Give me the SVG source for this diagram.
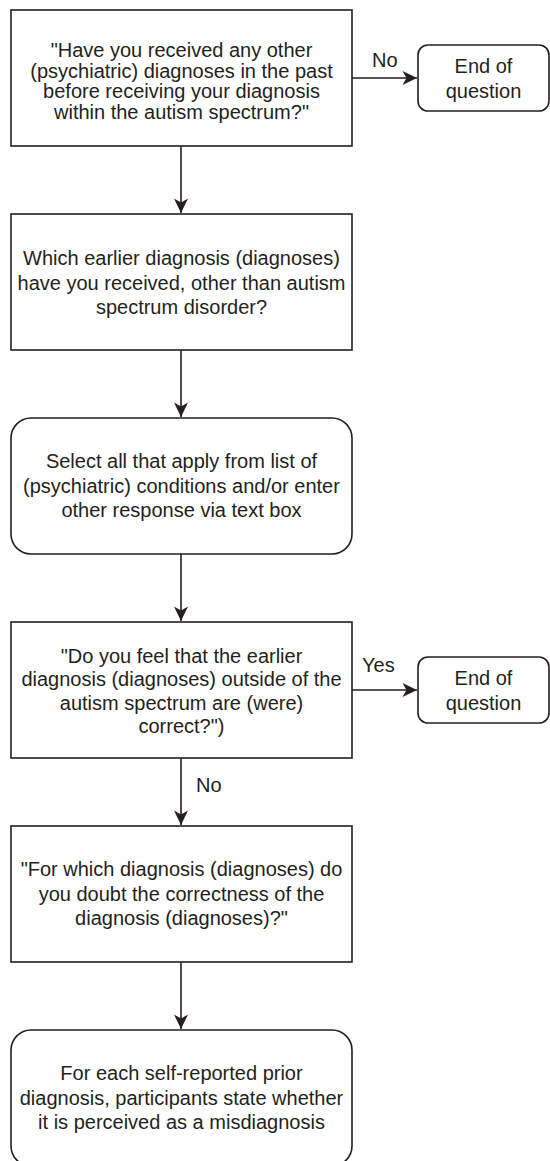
<svg xmlns="http://www.w3.org/2000/svg" width="550" height="1161" viewBox="0 0 550 1161">
<style>
.box{fill:#ffffff;stroke:#231f20;stroke-width:1.6}
.t{font-family:"Liberation Sans",Arial,sans-serif;font-size:20px;fill:#231f20;text-anchor:middle}
.l{font-family:"Liberation Sans",Arial,sans-serif;font-size:20px;fill:#231f20}
.c{fill:none;stroke:#231f20;stroke-width:1.6}
</style>
<defs>
<marker id="arr" markerUnits="userSpaceOnUse" markerWidth="16" markerHeight="16" viewBox="-15 -8 16 16" refX="0" refY="0" orient="auto">
<path d="M0,0 L-14.5,-7 L-10.5,0 L-14.5,7 Z" fill="#231f20"/>
</marker>
</defs>
<rect width="550" height="1161" fill="#ffffff"/>
<g id="connectors">
<line class="c" x1="352" y1="78" x2="417" y2="78" marker-end="url(#arr)"/>
<line class="c" x1="181" y1="146" x2="181" y2="213" marker-end="url(#arr)"/>
<line class="c" x1="181" y1="350" x2="181" y2="417" marker-end="url(#arr)"/>
<line class="c" x1="181" y1="554" x2="181" y2="621" marker-end="url(#arr)"/>
<line class="c" x1="352" y1="690" x2="417" y2="690" marker-end="url(#arr)"/>
<line class="c" x1="181" y1="758" x2="181" y2="825" marker-end="url(#arr)"/>
<line class="c" x1="181" y1="962" x2="181" y2="1029" marker-end="url(#arr)"/>
<text class="l" x="372" y="67">No</text>
<text class="l" x="362" y="672">Yes</text>
<text class="l" x="196" y="792">No</text>
</g>
<g id="q1">
<rect class="box" x="11" y="10" width="341" height="136"/>
<text class="t" x="181.5" y="57">"Have you received any other</text>
<text class="t" x="181.5" y="77.5">(psychiatric) diagnoses in the past</text>
<text class="t" x="181.5" y="98">before receiving your diagnosis</text>
<text class="t" x="181.5" y="118.5">within the autism spectrum?"</text>
</g>
<g id="end1">
<rect class="box" x="418" y="45" width="131" height="66" rx="10" ry="10"/>
<text class="t" x="483.5" y="73">End of</text>
<text class="t" x="483.5" y="98">question</text>
</g>
<g id="q2">
<rect class="box" x="11" y="214" width="341" height="136"/>
<text class="t" x="181.5" y="265">Which earlier diagnosis (diagnoses)</text>
<text class="t" x="181.5" y="289.5">have you received, other than autism</text>
<text class="t" x="181.5" y="314">spectrum disorder?</text>
</g>
<g id="select">
<rect class="box" x="11" y="418" width="341" height="136" rx="20" ry="20"/>
<text class="t" x="181.5" y="468">Select all that apply from list of</text>
<text class="t" x="181.5" y="492.5">(psychiatric) conditions and/or enter</text>
<text class="t" x="181.5" y="517">other response via text box</text>
</g>
<g id="q3">
<rect class="box" x="11" y="622" width="341" height="136"/>
<text class="t" x="181.5" y="662.5">"Do you feel that the earlier</text>
<text class="t" x="181.5" y="686">diagnosis (diagnoses) outside of the</text>
<text class="t" x="181.5" y="709.5">autism spectrum are (were)</text>
<text class="t" x="181.5" y="733">correct?")</text>
</g>
<g id="end2">
<rect class="box" x="418" y="657" width="131" height="66" rx="10" ry="10"/>
<text class="t" x="483.5" y="685">End of</text>
<text class="t" x="483.5" y="710">question</text>
</g>
<g id="q4">
<rect class="box" x="11" y="826" width="341" height="136"/>
<text class="t" x="181.5" y="876">"For which diagnosis (diagnoses) do</text>
<text class="t" x="181.5" y="900.5">you doubt the correctness of the</text>
<text class="t" x="181.5" y="925">diagnosis (diagnoses)?"</text>
</g>
<g id="result">
<rect class="box" x="11" y="1030" width="341" height="136" rx="20" ry="20"/>
<text class="t" x="181.5" y="1080">For each self-reported prior</text>
<text class="t" x="181.5" y="1104.5">diagnosis, participants state whether</text>
<text class="t" x="181.5" y="1129">it is perceived as a misdiagnosis</text>
</g>
</svg>
